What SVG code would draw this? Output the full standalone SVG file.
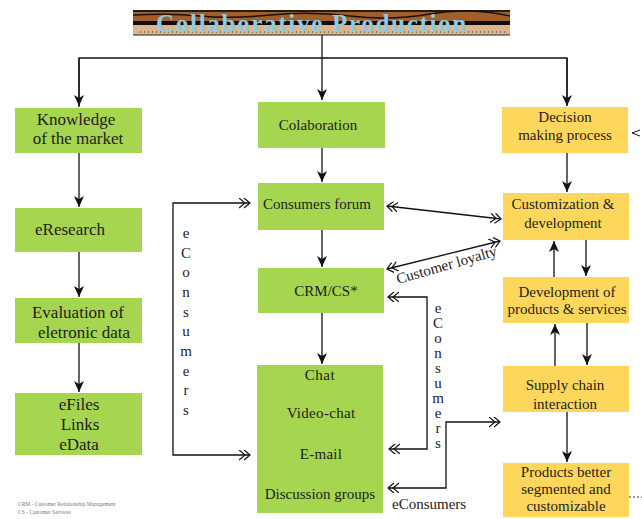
<svg xmlns="http://www.w3.org/2000/svg" width="642" height="519" viewBox="0 0 642 519">
<style>
.g{fill:#a6d550}
.y{fill:#fdd65c}
text{font-family:"Liberation Serif","Times New Roman","DejaVu Serif",serif}
.t{font-size:15px;fill:#1e1e1e;text-anchor:middle}
.l{font-size:17px}
.v{font-size:15px;fill:#222;text-anchor:middle}
.ln{fill:none;stroke:#111;stroke-width:1.3}
</style>
<defs>
<marker id="a" markerUnits="userSpaceOnUse" markerWidth="12" markerHeight="11" refX="11" refY="5" orient="auto">
<path d="M0,0 L11,5 L0,10 L3,5 z" fill="#111"/>
</marker>
<marker id="d" markerUnits="userSpaceOnUse" markerWidth="13" markerHeight="11" refX="11" refY="5" orient="auto-start-reverse">
<path d="M0,0 L6,5 L0,10 M5,0 L11,5 L5,10" fill="none" stroke="#111" stroke-width="1.2"/>
</marker>
</defs>
<rect width="642" height="519" fill="#fff"/>
<g id="title">
<rect x="133" y="10" width="377" height="25" fill="#a0602c"/>
<rect x="133" y="10" width="377" height="2" fill="#2a1a10"/>
<path d="M133,15 Q170,13 200,16 T270,15 T350,16 T430,14 T510,16" fill="none" stroke="#1a1008" stroke-width="1.5"/>
<rect x="133" y="21" width="377" height="4" fill="#140c06"/>
<rect x="133" y="25" width="377" height="10" fill="#d9b690"/>
<line x1="140" y1="32" x2="505" y2="32" stroke="#3a2a1a" stroke-width="1" stroke-dasharray="1 3"/>
<line x1="133" y1="35" x2="510" y2="35" stroke="#222" stroke-width="1"/>
<text x="312" y="32" font-weight="bold" font-size="25" fill="#8ecbe0" text-anchor="middle" letter-spacing="1.7">Collaborative Production</text>
</g>
<g id="connectors">
<path class="ln" d="M322,35 V100" marker-end="url(#a)"/>
<path class="ln" d="M79,107 V58 H567 V105"/>
<path class="ln" d="M79,58 V106" marker-end="url(#a)"/>
<path class="ln" d="M567,58 V106" marker-end="url(#a)"/>
<path class="ln" d="M79,153 V207" marker-end="url(#a)"/>
<path class="ln" d="M79,252 V297" marker-end="url(#a)"/>
<path class="ln" d="M79,343 V392" marker-end="url(#a)"/>
<path class="ln" d="M322,148 V182" marker-end="url(#a)"/>
<path class="ln" d="M322,230 V267" marker-end="url(#a)"/>
<path class="ln" d="M322,313 V364" marker-end="url(#a)"/>
<path class="ln" d="M567,153 V192" marker-end="url(#a)"/>
<path class="ln" d="M554,277 V241" marker-end="url(#a)"/>
<path class="ln" d="M586,240 V276" marker-end="url(#a)"/>
<path class="ln" d="M555,366 V324" marker-end="url(#a)"/>
<path class="ln" d="M587,323 V365" marker-end="url(#a)"/>
<path class="ln" d="M567,412 V462" marker-end="url(#a)"/>
<path class="ln" d="M250,203 H173 V455 H250" marker-start="url(#d)" marker-end="url(#d)"/>
<path class="ln" d="M388,297 H427 V449 H389" marker-start="url(#d)" marker-end="url(#d)"/>
<path class="ln" d="M388,488 H446 V422 H500" marker-start="url(#d)" marker-end="url(#d)"/>
<path class="ln" d="M387,206 L501,219" marker-start="url(#d)" marker-end="url(#d)"/>
<path class="ln" d="M387,269 L500,241" marker-start="url(#d)" marker-end="url(#d)"/>
<path d="M640,130 L632,133 L640,136" fill="none" stroke="#111" stroke-width="1"/>
<line x1="629" y1="497" x2="642" y2="497" stroke="#333" stroke-width="1" stroke-dasharray="2 2"/>
</g>
<g id="knowledge"><rect class="g" x="15" y="108" width="127" height="45"/><text class="t l" x="76" y="125">Knowledge</text><text class="t l" x="78" y="144">of the market</text></g>
<g id="eresearch"><rect class="g" x="15" y="208" width="127" height="44"/><text class="t l" x="70" y="235">eResearch</text></g>
<g id="evaluation"><rect class="g" x="15" y="298" width="127" height="45"/><text class="t l" x="78" y="318">Evaluation of</text><text class="t l" x="84" y="338">eletronic data</text></g>
<g id="efiles"><rect class="g" x="15" y="393" width="127" height="62"/><text class="t l" x="79" y="410">eFiles</text><text class="t l" x="80" y="430">Links</text><text class="t l" x="79" y="450">eData</text></g>
<g id="colaboration"><rect class="g" x="258" y="102" width="127" height="46"/><text class="t" x="318" y="130">Colaboration</text></g>
<g id="consumers-forum"><rect class="g" x="258" y="183" width="126" height="47"/><text class="t" x="317" y="209">Consumers forum</text></g>
<g id="crm"><rect class="g" x="258" y="268" width="126" height="45"/><text class="t" x="326" y="296" font-size="16">CRM/CS*</text></g>
<g id="channels"><rect class="g" x="257" y="365" width="126" height="148"/>
<text class="t" x="320" y="380" font-size="12" letter-spacing="0.5">Chat</text>
<text class="t" x="321" y="418" font-size="12" letter-spacing="0.3">Video-chat</text>
<text class="t" x="321" y="459" font-size="12" letter-spacing="0.3">E-mail</text>
<text class="t" x="320" y="499">Discussion groups</text></g>
<g id="decision"><rect class="y" x="502" y="107" width="126" height="46"/><text class="t" x="565" y="122">Decision</text><text class="t" x="565" y="140">making process</text></g>
<g id="customization"><rect class="y" x="503" y="193" width="126" height="47"/><text class="t" x="563" y="209">Customization &amp;</text><text class="t" x="563" y="228">development</text></g>
<g id="development"><rect class="y" x="503" y="277" width="126" height="46"/><text class="t" x="567" y="297">Development of</text><text class="t" x="567" y="314">products &amp; services</text></g>
<g id="supply"><rect class="y" x="503" y="366" width="126" height="46"/><text class="t" x="565" y="390">Supply chain</text><text class="t" x="565" y="409">interaction</text></g>
<g id="products"><rect class="y" x="503" y="463" width="126" height="54"/><text class="t" x="566" y="477">Products better</text><text class="t" x="566" y="494">segmented and</text><text class="t" x="566" y="511">customizable</text></g>
<g id="labels">
<g class="v">
<text x="186" y="238">e</text><text x="186" y="258">C</text><text x="186" y="277">o</text><text x="186" y="297">n</text><text x="186" y="317">s</text><text x="186" y="336">u</text><text x="186" y="356">m</text><text x="186" y="376">e</text><text x="186" y="395">r</text><text x="186" y="415">s</text>
</g>
<g class="v" font-size="14">
<text x="438" y="313">e</text><text x="438" y="328">C</text><text x="438" y="343">o</text><text x="438" y="358">n</text><text x="438" y="373">s</text><text x="438" y="388">u</text><text x="438" y="403">m</text><text x="438" y="418">e</text><text x="438" y="433">r</text><text x="438" y="448">s</text>
</g>
<text x="392" y="509" font-size="15" fill="#222">eConsumers</text>
<text transform="translate(398,284) rotate(-16)" font-size="15" fill="#222">Customer loyalty</text>
<text x="18" y="506" font-size="5.5" fill="#777">CRM - Customer Relationship Management</text>
<text x="18" y="514" font-size="5.5" fill="#777">CS - Customer Services</text>
</g>
</svg>
